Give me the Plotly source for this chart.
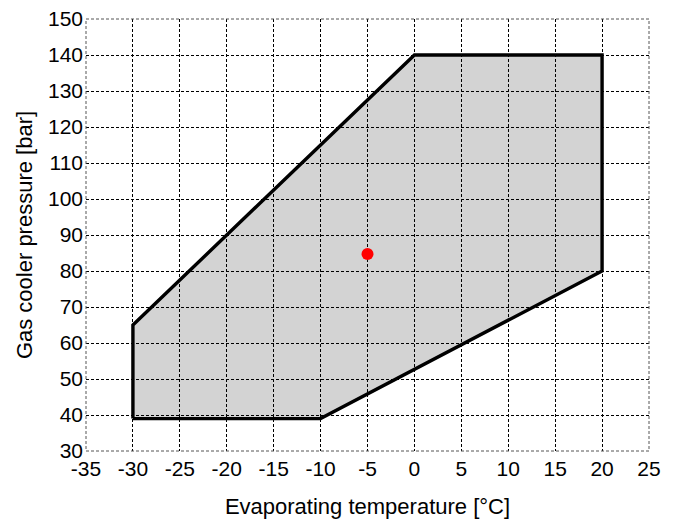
import plotly.graph_objects as go

# Envelope polygon vertices (evaporating temperature °C, gas cooler pressure bar)
env_t = [-30, -10, 20, 20, 0, -30, -30]
env_p = [39, 39, 80, 140, 140, 65, 39]

# Operating point
pt_t = [-5]
pt_p = [84.7]

x_ticks = list(range(-35, 26, 5))
y_ticks = list(range(30, 151, 10))

fig = go.Figure()
fig.add_trace(go.Scatter(
    x=env_t, y=env_p, mode="lines", fill="toself",
    fillcolor="rgba(0,0,0,0.173)", line=dict(color="black", width=3.4),
    hoverinfo="skip", showlegend=False,
))
fig.add_trace(go.Scatter(
    x=pt_t, y=pt_p, mode="markers",
    marker=dict(color="#ff0000", size=12, line=dict(width=0)),
    showlegend=False,
))

tick_font = dict(family="Liberation Sans, Arial, sans-serif", size=21, color="black")
title_font = dict(family="Liberation Sans, Arial, sans-serif", size=22, color="black")
axis_common = dict(
    showgrid=True, gridcolor="black", gridwidth=1, griddash="3px,2px",
    zeroline=False, showline=False, ticks="", tickfont=tick_font,
    automargin=False, ticklabeloverflow="allow",
)
fig.update_xaxes(range=[-35, 25], tickvals=x_ticks, ticktext=[str(v) for v in x_ticks],
                 title=dict(text="Evaporating temperature [°C]", font=title_font, standoff=19),
                 ticklabelstandoff=3, **axis_common)
fig.update_yaxes(range=[30, 150], tickvals=y_ticks, ticktext=[str(v) for v in y_ticks],
                 title=dict(text="Gas cooler pressure [bar]", font=title_font, standoff=9),
                 ticklabelstandoff=2, **axis_common)
fig.add_shape(type="rect", xref="paper", yref="paper", x0=0, y0=0, x1=1, y1=1,
              line=dict(color="#555555", width=1, dash="3px,2px"), layer="above")
fig.update_layout(
    width=675, height=523,
    margin=dict(l=78, r=34, t=11, b=80),
    plot_bgcolor="white", paper_bgcolor="white",
    font=tick_font,
)
fig.write_html("out.html")
